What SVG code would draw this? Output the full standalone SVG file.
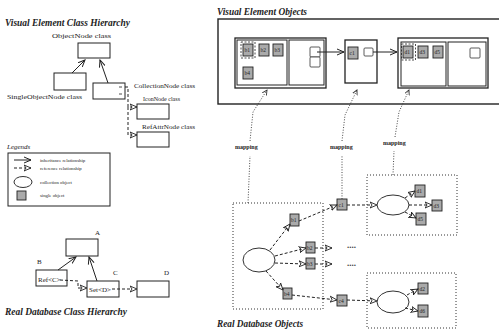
<svg xmlns="http://www.w3.org/2000/svg" width="499" height="331" viewBox="0 0 499 331">
<style>
text{font-family:"Liberation Serif","DejaVu Serif",serif;fill:#222}
.title{font-size:9.5px;font-weight:bold;font-style:italic}
.lbl{font-size:7px}
.leg{font-size:4.8px}
.sq{font-size:5.5px}
.map{font-size:6px;font-weight:bold}
.dots{font-size:9px;font-weight:bold;fill:#444}
.box{fill:#fff;stroke:#222;stroke-width:1}
.panel{fill:#fff;stroke:#222;stroke-width:1.3}
.gsq{fill:#aaa;stroke:#222;stroke-width:0.9}
.wsq{fill:#fff;stroke:#333;stroke-width:0.8}
.dotr{fill:none;stroke:#333;stroke-width:1;stroke-dasharray:1 2}
.ell{fill:#fff;stroke:#333;stroke-width:1}
.inh{fill:none;stroke:#222;stroke-width:1;marker-end:url(#ah)}
.ref{fill:none;stroke:#222;stroke-width:1;stroke-dasharray:3 2;marker-end:url(#oa)}
.map-l{fill:none;stroke:#333;stroke-width:0.9;stroke-dasharray:1 1.6}
.sel{fill:none;stroke:#222;stroke-width:0.8;stroke-dasharray:2 1.5}
</style>
<defs>
<marker id="ah" markerWidth="8" markerHeight="8" refX="7" refY="4" orient="auto" markerUnits="userSpaceOnUse"><path d="M0,1 L7,4 L0,7" fill="none" stroke="#222" stroke-width="1"/></marker>
<marker id="oa" markerWidth="8" markerHeight="8" refX="7" refY="4" orient="auto" markerUnits="userSpaceOnUse"><path d="M0,1 L7,4 L0,7 L2,4 Z" fill="#fff" stroke="#222" stroke-width="0.9"/></marker>
<marker id="ma" markerWidth="6" markerHeight="6" refX="5" refY="3" orient="auto" markerUnits="userSpaceOnUse"><path d="M0,0.5 L5,3 L0,5.5" fill="none" stroke="#333" stroke-width="0.9"/></marker>
</defs>
<rect width="499" height="331" fill="#fff"/>

<!-- Left: Visual Element Class Hierarchy -->
<text class="title" x="5" y="26" textLength="125" lengthAdjust="spacingAndGlyphs">Visual Element Class Hierarchy</text>
<g id="objectnode"><rect class="box" x="78" y="43" width="32" height="15"/><text class="lbl" x="52" y="38" textLength="59" lengthAdjust="spacingAndGlyphs">ObjectNode class</text></g>
<g id="singleobjectnode"><rect class="box" x="54" y="73" width="32" height="17"/><text class="lbl" x="7" y="99" textLength="75" lengthAdjust="spacingAndGlyphs">SingleObjectNode class</text></g>
<g id="collectionnode"><rect class="box" x="93" y="83" width="32" height="16"/><line x1="119" y1="87" x2="122" y2="87" stroke="#222" stroke-width="0.8"/><line x1="119" y1="94" x2="122" y2="94" stroke="#222" stroke-width="0.8"/><text class="lbl" x="134" y="88" textLength="61" lengthAdjust="spacingAndGlyphs">CollectionNode class</text></g>
<g id="iconnode"><rect class="box" x="137" y="104" width="32" height="15"/><text class="lbl" x="143" y="101" textLength="37" lengthAdjust="spacingAndGlyphs">IconNode class</text></g>
<g id="refattrnode"><rect class="box" x="137" y="132" width="32" height="15"/><text class="lbl" x="142" y="129" textLength="53" lengthAdjust="spacingAndGlyphs">RefAttrNode class</text></g>

<!-- Legend -->
<g id="legend">
<text x="7" y="149" style="font-size:7px;font-style:italic">Legends</text>
<rect x="8" y="153" width="102" height="53" fill="#fff" stroke="#222" stroke-width="1"/>
<line x1="14" y1="160" x2="31" y2="160" class="inh"/>
<text class="leg" x="40" y="162">inheritance relationship</text>
<line x1="14" y1="168" x2="31" y2="168" class="ref"/>
<text class="leg" x="40" y="170">reference relationship</text>
<ellipse class="ell" cx="23" cy="182" rx="9" ry="5.5"/>
<text class="leg" x="40" y="184">collection object</text>
<rect class="gsq" x="17" y="191" width="9" height="9"/>
<text class="leg" x="40" y="197">single object</text>
</g>

<!-- Left: Real Database Class Hierarchy -->
<g id="classA"><rect class="box" x="66" y="239" width="32" height="17"/><text class="lbl" x="95" y="235">A</text></g>
<g id="classB"><rect class="box" x="36" y="270" width="31" height="16"/><text class="lbl" x="37" y="264">B</text><text class="lbl" x="38" y="282">Ref&lt;C&gt;</text></g>
<g id="classC"><rect class="box" x="87" y="281" width="32" height="16"/><text class="lbl" x="113" y="275">C</text><text class="lbl" x="89" y="292">Set&lt;D&gt;</text></g>
<g id="classD"><rect class="box" x="137" y="281" width="32" height="16"/><text class="lbl" x="164" y="275">D</text></g>
<text class="title" x="5" y="315" textLength="122" lengthAdjust="spacingAndGlyphs">Real Database Class Hierarchy</text>

<!-- Right: Visual Element Objects -->
<text class="title" x="217" y="15" textLength="90" lengthAdjust="spacingAndGlyphs">Visual Element Objects</text>
<g id="visual-frame"><rect x="218" y="19" width="290" height="85" fill="none" stroke="#222" stroke-width="1.4"/></g>

<g id="panel-b">
<rect class="panel" x="235" y="38" width="91" height="50"/>
<rect class="box" x="237" y="40" width="50" height="45"/>
<rect class="box" x="289" y="40" width="35" height="45"/>
<rect class="gsq" x="243" y="44" width="10" height="12"/><text class="sq" x="244.5" y="52">b1</text>
<rect class="sel" x="241" y="42" width="14" height="16"/>
<rect class="gsq" x="259" y="44" width="10" height="12"/><text class="sq" x="260.5" y="52">b2</text>
<rect class="gsq" x="273" y="44" width="10" height="12"/><text class="sq" x="274.5" y="52">b3</text>
<rect class="gsq" x="243" y="67" width="10" height="12"/><text class="sq" x="244.5" y="75">b4</text>
<rect class="wsq" x="310" y="47" width="10" height="10" rx="1"/>
<rect class="wsq" x="310" y="57" width="10" height="10" rx="1"/>
</g>
<g id="panel-c">
<rect class="panel" x="345" y="40" width="32" height="43"/>
<rect class="gsq" x="348" y="47" width="10" height="12"/><text class="sq" x="349.5" y="55">c1</text>
<rect class="wsq" x="364" y="48" width="9" height="8" rx="1"/>
</g>
<g id="panel-d">
<rect class="panel" x="398" y="38" width="90" height="50"/>
<rect class="box" x="401" y="42" width="45" height="44"/>
<rect class="box" x="448" y="42" width="38" height="44"/>
<rect class="gsq" x="403" y="46" width="10" height="12"/><text class="sq" x="404.5" y="54">d1</text>
<rect class="sel" x="401.5" y="44" width="14" height="16"/>
<rect class="gsq" x="418" y="46" width="10" height="12"/><text class="sq" x="419.5" y="54">d3</text>
<rect class="gsq" x="433" y="46" width="10" height="12"/><text class="sq" x="434.5" y="54">d5</text>
<rect class="wsq" x="470" y="48" width="10" height="10" rx="1"/>
</g>

<!-- Right: Real Database Objects -->
<g id="group-b">
<rect class="dotr" x="233" y="203" width="90" height="106"/>
<ellipse class="ell" cx="259" cy="260" rx="16" ry="12"/>
</g>
<g id="group-d-top">
<rect class="dotr" x="367" y="175" width="90" height="60"/>
<ellipse class="ell" cx="393" cy="205" rx="16" ry="10"/>
</g>
<g id="group-d-bottom">
<rect class="dotr" x="367" y="273" width="89" height="55"/>
<ellipse class="ell" cx="393" cy="302" rx="16" ry="11"/>
</g>
<g id="obj-b1"><rect class="gsq" x="290" y="214" width="9" height="12"/><text class="sq" x="291" y="222">b1</text></g>
<g id="obj-b2"><rect class="gsq" x="306" y="242" width="9" height="11"/><text class="sq" x="307" y="250">b2</text></g>
<g id="obj-b3"><rect class="gsq" x="306" y="258" width="9" height="11"/><text class="sq" x="307" y="266">b3</text></g>
<g id="obj-b4"><rect class="gsq" x="283" y="288" width="9" height="11"/><text class="sq" x="284" y="296">b4</text></g>
<g id="obj-c1"><rect class="gsq" x="337" y="199" width="10" height="11"/><text class="sq" x="338.5" y="207">c1</text></g>
<g id="obj-c4"><rect class="gsq" x="337" y="295" width="10" height="11"/><text class="sq" x="338.5" y="303">c4</text></g>
<g id="obj-d1"><rect class="gsq" x="415" y="185" width="10" height="12"/><text class="sq" x="416.5" y="193">d1</text></g>
<g id="obj-d3"><rect class="gsq" x="432" y="200" width="10" height="11"/><text class="sq" x="433.5" y="208">d3</text></g>
<g id="obj-d5"><rect class="gsq" x="416" y="213" width="10" height="12"/><text class="sq" x="417.5" y="221">d5</text></g>
<g id="obj-d2"><rect class="gsq" x="418" y="283" width="10" height="11"/><text class="sq" x="419.5" y="291">d2</text></g>
<g id="obj-d6"><rect class="gsq" x="418" y="305" width="10" height="12"/><text class="sq" x="419.5" y="313">d6</text></g>
<text class="dots" x="347" y="248">....</text>
<text class="dots" x="347" y="266">....</text>
<text class="title" x="217" y="327" textLength="86" lengthAdjust="spacingAndGlyphs">Real Database Objects</text>

<!-- mapping labels -->
<text class="map" x="235" y="149">mapping</text>
<text class="map" x="330" y="149">mapping</text>
<text class="map" x="383" y="145">mapping</text>

<g id="connectors">
<!-- class hierarchy -->
<line class="inh" x1="72" y1="73" x2="85" y2="60"/>
<line class="inh" x1="108" y1="83" x2="100" y2="60"/>
<path class="ref" d="M125,87 L128,87 L128,107 L137,107"/>
<path class="ref" d="M128,107 L128,135 L137,135"/>
<line class="inh" x1="58" y1="270" x2="76" y2="257"/>
<line class="inh" x1="97" y1="281" x2="89" y2="257"/>
<path class="ref" d="M60,280 L78,281 L78,288 L87,288"/>
<line class="ref" x1="112" y1="289" x2="137" y2="289"/>
<!-- visual element arrows -->
<line class="inh" x1="317" y1="52" x2="344" y2="52"/>
<line class="inh" x1="373" y1="52" x2="397" y2="52"/>
<!-- mapping -->
<path class="map-l" d="M248,203 L250,156"/>
<path class="map-l" d="M250,141 L253,112 L267,90" marker-end="url(#ma)"/>
<path class="map-l" d="M342,199 L342,156"/>
<path class="map-l" d="M342,141 L345,115 L357,90" marker-end="url(#ma)"/>
<path class="map-l" d="M393,175 L394,151"/>
<path class="map-l" d="M395,137 L399,112 L409,90" marker-end="url(#ma)"/>
<!-- database objects -->
<line class="ref" x1="270" y1="250" x2="290" y2="224"/>
<line class="ref" x1="299" y1="221" x2="337" y2="205"/>
<line class="ref" x1="275" y1="256" x2="306" y2="248"/>
<line class="ref" x1="315" y1="248" x2="332" y2="248"/>
<line class="ref" x1="275" y1="263" x2="306" y2="264"/>
<line class="ref" x1="315" y1="264" x2="332" y2="264"/>
<line class="ref" x1="266" y1="271" x2="283" y2="290"/>
<line class="ref" x1="292" y1="295" x2="337" y2="300"/>
<line class="ref" x1="347" y1="205" x2="377" y2="205"/>
<line class="ref" x1="405" y1="198" x2="415" y2="191"/>
<line class="ref" x1="409" y1="205" x2="432" y2="205"/>
<line class="ref" x1="405" y1="212" x2="416" y2="218"/>
<line class="ref" x1="347" y1="300" x2="377" y2="301"/>
<line class="ref" x1="407" y1="295" x2="418" y2="289"/>
<line class="ref" x1="405" y1="308" x2="418" y2="311"/>
</g>
</svg>
